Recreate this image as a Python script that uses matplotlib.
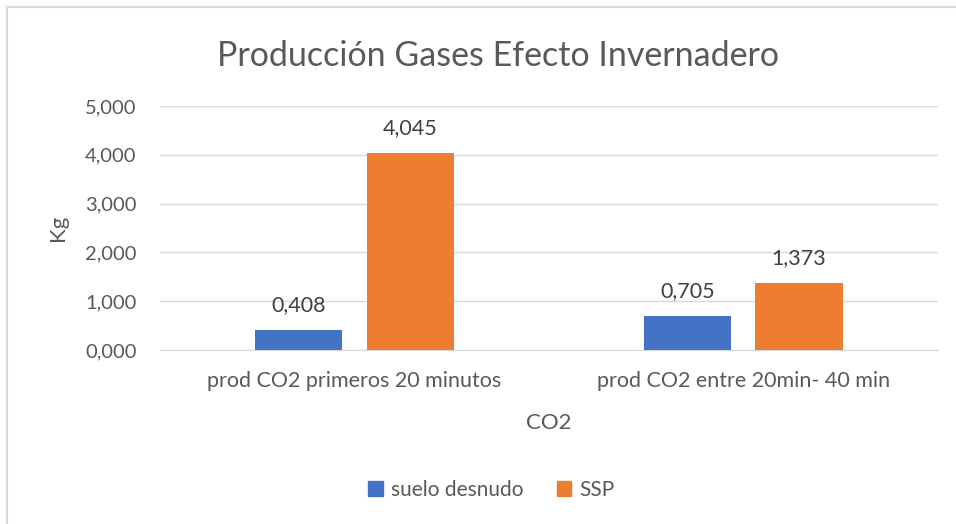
import matplotlib.pyplot as plt
import numpy as np
from matplotlib.lines import Line2D
from matplotlib.patches import Patch
from matplotlib.ticker import FuncFormatter

categories = ['prod CO2 primeros 20 minutos', 'prod CO2 entre 20min- 40 min']
series_names = ['suelo desnudo', 'SSP']
suelo_desnudo = [0.408, 0.705]
ssp = [4.045, 1.373]
y_ticks = [0, 1, 2, 3, 4, 5]

colors = ['#4472C4', '#ED7D31']
text_col = '#595959'
grid_col = '#D9D9D9'

plt.rcParams['font.family'] = ['Lato', 'DejaVu Sans']


def comma_fmt(v, pos=None):
    return f'{v:.3f}'.replace('.', ',')


fig = plt.figure(figsize=(9.56, 5.24), dpi=100)
ax = fig.add_axes([0.1674, 0.332, 0.8136, 0.4656])

x = np.arange(len(categories))
width = 0.224
off = 0.143
for vals, dx, col in [(suelo_desnudo, -off, colors[0]), (ssp, off, colors[1])]:
    bars = ax.bar(x + dx, vals, width, color=col, zorder=3)
    for b, v in zip(bars, vals):
        ax.text(b.get_x() + b.get_width() / 2, v + 0.3, comma_fmt(v),
                ha='center', va='bottom', fontsize=15.5, color='#404040')

ax.set_xlim(-0.5, 1.5)
ax.set_ylim(0, 5)
ax.set_yticks(y_ticks)
ax.yaxis.set_major_formatter(FuncFormatter(comma_fmt))
ax.set_xticks(x)
ax.set_xticklabels(categories)
ax.grid(axis='y', color=grid_col, linewidth=1, zorder=0)
for s in ['top', 'right', 'left']:
    ax.spines[s].set_visible(False)
ax.spines['bottom'].set_color(grid_col)
ax.tick_params(axis='both', length=0, labelcolor=text_col)
ax.tick_params(axis='y', pad=17, labelsize=14.5)
ax.tick_params(axis='x', pad=15, labelsize=15.5)

ax.set_ylabel('Kg', fontsize=16, color=text_col, labelpad=12)
ax.set_xlabel('CO2', fontsize=16, color=text_col, labelpad=16)

fig.text(0.521, 0.894, 'Producción Gases Efecto Invernadero', ha='center',
         va='center', fontsize=24.5, color=text_col)

handles = [Patch(color=c) for c in colors]
fig.legend(handles, series_names, loc='center', bbox_to_anchor=(0.514, 0.065),
           ncol=2, frameon=False, fontsize=15, labelcolor=text_col,
           handlelength=0.7, handleheight=0.7, handletextpad=0.4, columnspacing=1.6)

# chart border (top and left visible in crop)
fig.add_artist(Line2D([0.0078, 0.0078], [0, 0.986], color=grid_col, linewidth=1.5,
                      transform=fig.transFigure))
fig.add_artist(Line2D([0.0078, 1], [0.986, 0.986], color=grid_col, linewidth=1.5,
                      transform=fig.transFigure))

fig.savefig('out.png', dpi=100)
